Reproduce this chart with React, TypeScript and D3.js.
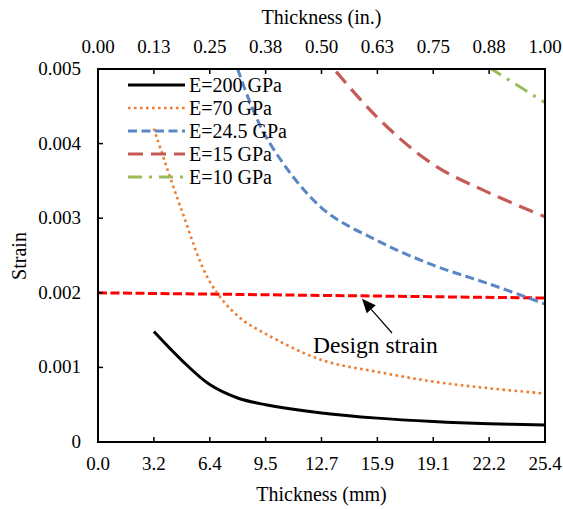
import React from "react";
import * as d3 from "d3";

const W = 563;
const H = 509;

const mmTicks = [0, 3.175, 6.35, 9.525, 12.7, 15.875, 19.05, 22.225, 25.4];
const mmTickLabels = ["0.0", "3.2", "6.4", "9.5", "12.7", "15.9", "19.1", "22.2", "25.4"];
const inTicks = [0, 0.125, 0.25, 0.375, 0.5, 0.625, 0.75, 0.875, 1.0];
const inTickLabels = ["0.00", "0.13", "0.25", "0.38", "0.50", "0.63", "0.75", "0.88", "1.00"];
const strainTicks = [0, 0.001, 0.002, 0.003, 0.004, 0.005];
const strainTickLabels = ["0", "0.001", "0.002", "0.003", "0.004", "0.005"];

const tE200 = [3.175, 4.7625, 6.35, 7.9375, 9.525, 12.7, 15.875, 19.05, 22.225, 25.4];
const sE200 = [0.00148, 0.001095, 0.00077, 0.00059, 0.0005, 0.00039, 0.00032, 0.000275, 0.000245, 0.000228];
const tE70 = [3.175, 4.7625, 6.35, 7.9375, 9.525, 12.7, 15.875, 19.05, 22.225, 25.4];
const sE70 = [0.0042, 0.0031, 0.00215, 0.00169, 0.00145, 0.0011, 0.00094, 0.00081, 0.00072, 0.00065];
const tE245 = [7.9375, 9.525, 12.7, 15.875, 19.05, 22.225, 25.4];
const sE245 = [0.005, 0.0041, 0.00314, 0.0027, 0.00237, 0.00212, 0.00185];
const tE15 = [12.7, 15.875, 19.05, 22.225, 25.4];
const sE15 = [0.0052, 0.00435, 0.00372, 0.00334, 0.00302];
const tE10 = [22.225, 25.4];
const sE10 = [0.00502, 0.00455];
const tDesign = [0, 25.4];
const sDesign = [0.002, 0.00193];

const seriesNames = ["E=200 GPa", "E=70 GPa", "E=24.5 GPa", "E=15 GPa", "E=10 GPa"];

const FONT = "'Liberation Serif', 'Times New Roman', serif";

export default function App() {
  const left = 98, right = 545, top = 69, bottom = 442;
  const x = d3.scaleLinear().domain([0, 25.4]).range([left, right]);
  const xi = d3.scaleLinear().domain([0, 1]).range([left, right]);
  const y = d3.scaleLinear().domain([0, 0.005]).range([bottom, top]);

  const line = d3
    .line<[number, number]>()
    .x((d) => x(d[0]))
    .y((d) => y(d[1]))
    .curve(d3.curveCatmullRom.alpha(0.5));

  const zip = (a: number[], b: number[]) => a.map((v, i) => [v, b[i]] as [number, number]);

  const series = [
    { name: seriesNames[0], t: tE200, s: sE200, color: "#000000", w: 3, dash: "" },
    { name: seriesNames[1], t: tE70, s: sE70, color: "#ED7D31", w: 2.6, dash: "2.6 3.4" },
    { name: seriesNames[2], t: tE245, s: sE245, color: "#5B86C5", w: 3, dash: "9 4.5" },
    { name: seriesNames[3], t: tE15, s: sE15, color: "#C55A57", w: 3.2, dash: "15 8" },
    { name: seriesNames[4], t: tE10, s: sE10, color: "#9BBB59", w: 3, dash: "14 7 3 7" },
  ];

  const legendY = [85, 108, 131, 154, 177];

  const arrowTip = [362, y(0.00196) + 3];
  const arrowTail = [392, 333];
  const ang = Math.atan2(arrowTip[1] - arrowTail[1], arrowTip[0] - arrowTail[0]);
  const hl = 14, hw = 6;
  const bx = arrowTip[0] - hl * Math.cos(ang);
  const by = arrowTip[1] - hl * Math.sin(ang);
  const head = [
    [arrowTip[0], arrowTip[1]],
    [bx + hw * Math.sin(ang), by - hw * Math.cos(ang)],
    [bx - hw * Math.sin(ang), by + hw * Math.cos(ang)],
  ];

  return (
    <svg
      width={W}
      height={H}
      style={{ position: "absolute", left: 0, top: 0, background: "#fff" }}
      fontFamily={FONT}
    >
      <rect x={0} y={0} width={W} height={H} fill="#fff" />
      <defs>
        <clipPath id="plotclip">
          <rect x={left} y={top} width={right - left} height={bottom - top} />
        </clipPath>
      </defs>

      <g clipPath="url(#plotclip)">
        <path
          d={line(zip(tDesign, sDesign)) || ""}
          fill="none"
          stroke="#FF0000"
          strokeWidth={3}
          strokeDasharray="9 3.5"
        />
        {series.map((s) => (
          <path
            key={s.name}
            d={line(zip(s.t, s.s)) || ""}
            fill="none"
            stroke={s.color}
            strokeWidth={s.w}
            strokeDasharray={s.dash || undefined}
          />
        ))}
      </g>

      <rect x={left} y={top} width={right - left} height={bottom - top} fill="none" stroke="#000" strokeWidth={2} />

      {mmTicks.map((t, i) => (
        <g key={"b" + i}>
          <line x1={x(t)} x2={x(t)} y1={bottom} y2={bottom - 5} stroke="#000" strokeWidth={1.5} />
          <text x={x(t)} y={bottom + 28} textAnchor="middle" fontSize={19}>
            {mmTickLabels[i]}
          </text>
        </g>
      ))}
      {inTicks.map((t, i) => (
        <g key={"t" + i}>
          <line x1={xi(t)} x2={xi(t)} y1={top} y2={top + 5} stroke="#000" strokeWidth={1.5} />
          <text x={xi(t)} y={top - 16} textAnchor="middle" fontSize={19}>
            {inTickLabels[i]}
          </text>
        </g>
      ))}
      {strainTicks.map((t, i) => (
        <g key={"l" + i}>
          <line x1={left} x2={left + 5} y1={y(t)} y2={y(t)} stroke="#000" strokeWidth={1.5} />
          <text x={left - 17} y={y(t) + 6} textAnchor="end" fontSize={19}>
            {strainTickLabels[i]}
          </text>
        </g>
      ))}

      <text x={(left + right) / 2} y={501} textAnchor="middle" fontSize={20}>
        Thickness (mm)
      </text>
      <text x={(left + right) / 2} y={24} textAnchor="middle" fontSize={20}>
        Thickness (in.)
      </text>
      <text transform={`translate(26, 256) rotate(-90)`} textAnchor="middle" fontSize={20}>
        Strain
      </text>

      {series.map((s, i) => (
        <g key={"lg" + i}>
          <line
            x1={128}
            x2={185}
            y1={legendY[i]}
            y2={legendY[i]}
            stroke={s.color}
            strokeWidth={s.w}
            strokeDasharray={s.dash || undefined}
          />
          <text x={189} y={legendY[i] + 6.5} fontSize={20}>
            {s.name}
          </text>
        </g>
      ))}

      <line x1={arrowTail[0]} y1={arrowTail[1]} x2={bx} y2={by} stroke="#000" strokeWidth={1.2} />
      <polygon points={head.map((p) => p.join(",")).join(" ")} fill="#000" />
      <text x={313} y={353} fontSize={23.5}>
        Design strain
      </text>
    </svg>
  );
}
